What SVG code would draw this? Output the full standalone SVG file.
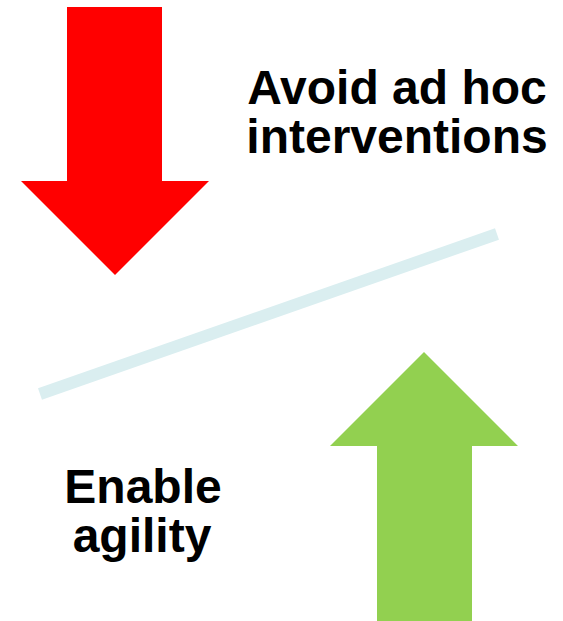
<svg xmlns="http://www.w3.org/2000/svg" width="563" height="621" viewBox="0 0 563 621">
<style>
.lbl{font-family:"Liberation Sans",Arial,sans-serif;font-weight:bold;font-size:48px;fill:#000;text-anchor:middle}
</style>
<rect width="563" height="621" fill="#fff"/>
<g id="connectors">
<line x1="40" y1="394" x2="497" y2="234" stroke="#DAEEF0" stroke-width="12"/>
</g>
<g id="red-arrow">
<polygon points="67,7 162,7 162,181 209,181 115,275 21,181 67,181" fill="#FF0000"/>
</g>
<g id="green-arrow">
<polygon points="424,352 518,446 472,446 472,621 377,621 377,446 330,446" fill="#92D050"/>
</g>
<g id="label-avoid">
<text class="lbl" x="397" y="104">Avoid ad hoc</text>
<text class="lbl" x="397" y="153">interventions</text>
</g>
<g id="label-enable">
<text class="lbl" x="143" y="503">Enable</text>
<text class="lbl" x="142" y="552">agility</text>
</g>
</svg>
